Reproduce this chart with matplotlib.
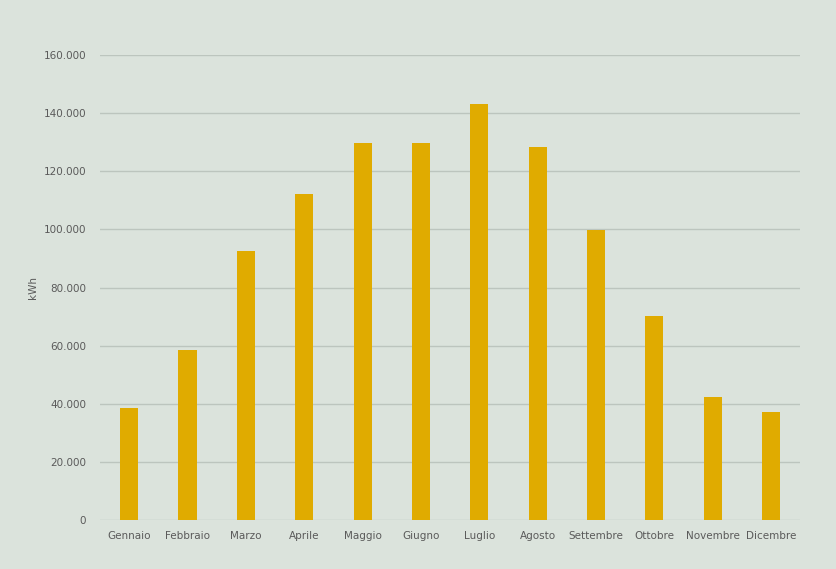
import matplotlib.pyplot as plt
import numpy as np
from matplotlib.ticker import FuncFormatter

months = ['Gennaio', 'Febbraio', 'Marzo', 'Aprile', 'Maggio', 'Giugno',
          'Luglio', 'Agosto', 'Settembre', 'Ottobre', 'Novembre', 'Dicembre']
energy_kwh = [38500, 58500, 92600, 112200, 129800, 129800,
              143200, 128400, 99900, 70200, 42300, 37200]
y_ticks = [0, 20000, 40000, 60000, 80000, 100000, 120000, 140000, 160000]

bg = '#dbe3dc'
bar_color = '#e0ab00'
text_color = '#5a5a5a'

fig = plt.figure(figsize=(8.37, 5.69), dpi=100, facecolor=bg)
ax = fig.add_axes([0.1195, 0.0861, 0.8365, 0.8172], facecolor=bg)

x = np.arange(len(months))
ax.bar(x, energy_kwh, width=0.31, color=bar_color, zorder=3)

ax.set_xlim(-0.5, len(months) - 0.5)
ax.set_ylim(0, 160000)
ax.set_yticks(y_ticks)
ax.yaxis.set_major_formatter(FuncFormatter(lambda v, p: f'{int(v):,}'.replace(',', '.')))
ax.set_xticks(x)
ax.set_xticklabels(months)

ax.grid(axis='y', color='#bcc5be', linewidth=1.0, zorder=0)
for s in ax.spines.values():
    s.set_visible(False)
ax.tick_params(axis='both', length=0, colors=text_color, labelsize=7.5, pad=10)
ax.tick_params(axis='x', pad=8)

ax.set_ylabel('kWh', color=text_color, fontsize=7.5)
ax.yaxis.set_label_coords(-0.089, 0.5)

fig.savefig('out.png', dpi=100, facecolor=bg)
